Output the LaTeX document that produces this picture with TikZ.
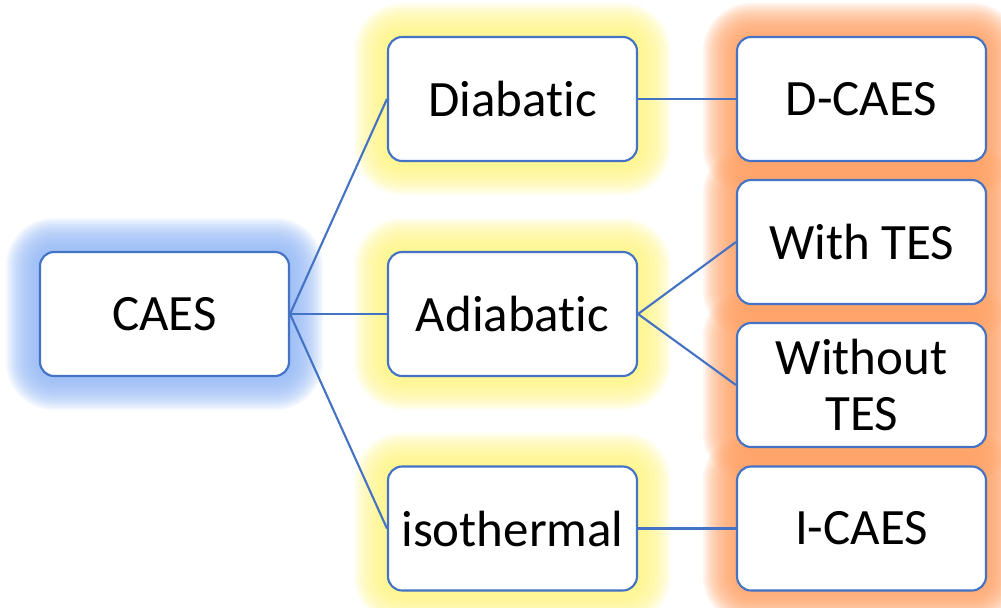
\documentclass[tikz,border=0pt]{standalone}
\usepackage{fontspec}
\setmainfont[Ligatures=NoCommon]{Carlito}
\pgfdeclarelayer{back}
\pgfsetlayers{back,main}
\definecolor{edge}{RGB}{68,114,196}
\definecolor{glowblue}{RGB}{145,182,245}
\definecolor{glowyellow}{RGB}{255,244,130}
\definecolor{gloworange}{RGB}{255,160,100}
\tikzset{
  item/.style={draw=edge, line width=1.2pt, fill=white, rounded corners=0.28cm,
    minimum width=4.98cm, minimum height=2.48cm, inner sep=0pt, align=center,
    font=\fontsize{29}{32}\selectfont},
  link/.style={draw=edge, line width=1.2pt},
}
% soft halo behind a box: colour, centre x, centre y (pixel units)
\newcommand\halo[3]{%
  \foreach \k in {0,...,17}{%
    \pgfmathsetmacro\off{34-2*\k}%
    \pgfmathsetmacro\rad{(14+\off)*0.02}%
    \fill[#1, opacity=0.11, rounded corners=\rad cm]
      (#2-124.5-\off, #3-62-\off) rectangle (#2+124.5+\off, #3+62+\off);
  }}
\begin{document}
\begin{tikzpicture}[x=0.02cm, y=-0.02cm]
  \useasboundingbox (0,0) rectangle (1001,608);
  \clip (0,0) rectangle (1001,608);

  \node[item] (caes)    at (164.5,314)   {CAES};
  \node[item] (dia)     at (512.5,99)    {Diabatic};
  \node[item] (adia)    at (512.5,314)   {Adiabatic};
  \node[item] (iso)     at (512.5,528.5) {isothermal};
  \node[item] (dcaes)   at (861.5,99)    {D-CAES};
  \node[item] (with)    at (861.5,242)   {With TES};
  \node[item] (without) at (861.5,385)   {Without\\TES};
  \node[item] (icaes)   at (861.5,528.5) {I-CAES};

  \begin{pgfonlayer}{back}
    \halo{glowblue}{164.5}{314}
    \halo{glowyellow}{512.5}{99}
    \halo{glowyellow}{512.5}{314}
    \halo{glowyellow}{512.5}{528.5}
    \halo{gloworange}{861.5}{99}
    \halo{gloworange}{861.5}{242}
    \halo{gloworange}{861.5}{385}
    \halo{gloworange}{861.5}{528.5}

    \draw[link] (caes.east) -- (dia.west);
    \draw[link] (caes.east) -- (adia.west);
    \draw[link] (caes.east) -- (iso.west);
    \draw[link] (dia.east) -- (dcaes.west);
    \draw[link] (adia.east) -- (with.west);
    \draw[link] (adia.east) -- (without.west);
    \draw[link] (iso.east) -- (icaes.west);
  \end{pgfonlayer}
\end{tikzpicture}
\end{document}
